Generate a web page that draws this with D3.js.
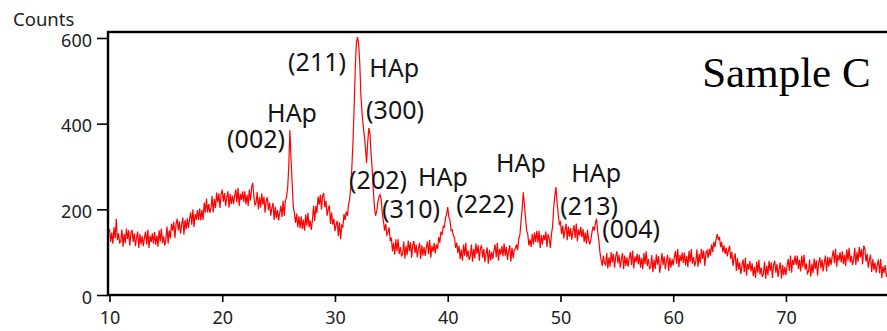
<!DOCTYPE html>
<html>
<head>
<meta charset="utf-8">
<script src="https://cdn.jsdelivr.net/npm/d3@7"></script>
<style>
  html, body { margin: 0; padding: 0; background: #fff; }
  svg { display: block; }
</style>
</head>
<body>
<svg id="chart"></svg>
<script>
// scan grid: 2-theta from 10 deg, 0.1 deg step
const twoThetaStart = 10
const twoThetaStep = 0.1

// counts, one row per degree
const counts = [
  154,124,146,120,158,132,178,128,144,122, // 10
  125,153,113,143,121,155,131,151,115,145, // 11
  152,124,144,114,134,148,110,142,118,138, // 12
  114,134,148,118,152,110,138,124,144,120, // 13
  147,117,139,113,151,125,155,121,137,115, // 14
  130,160,120,151,132,166,150,171,133,165, // 15
  178,151,172,143,164,181,141,175,153,179, // 16
  156,177,193,164,200,159,189,176,198,175, // 17
  202,174,199,175,216,192,225,193,212,192, // 18
  202,231,193,224,203,239,216,237,203,235, // 19
  246,218,238,208,228,242,204,236,212,232, // 20
  212,232,246,216,250,208,236,222,242,218, // 21
  242,212,234,208,246,220,250,262,232,210, // 22
  215,241,200,228,204,237,211,229,192,220, // 23
  228,198,216,185,203,215,175,206,180,198, // 24
  174,192,208,182,220,184,220,228,250,300, // 25
  385,318,262,205,192,168,190,158,184,156, // 26
  184,154,176,150,188,162,192,158,174,152, // 27
  175,208,173,208,191,230,211,234,200,232, // 28
  238,205,220,185,200,209,166,193,164,178, // 29
  149,164,173,138,170,130,163,159,189,175, // 30
  195,185,210,225,250,300,360,440,530,590, // 31
  602,585,540,465,425,395,372,345,308,355, // 32
  390,378,330,295,245,205,185,195,215,230, // 33
  234,222,188,172,150,166,140,146,158,126, // 34
  134,102,122,94,130,102,130,96,112,90,    // 35
  97,125,85,115,93,127,103,123,87,117,     // 36
  126,98,118,88,108,122,84,116,92,112,     // 37
  91,111,125,95,129,87,115,101,121,97,     // 38
  118,108,135,122,148,140,160,158,180,188, // 39
  205,182,175,150,152,138,135,110,122,98,  // 40
  114,84,106,80,118,92,122,88,104,82,      // 41
  90,118,78,108,86,120,96,116,80,110,      // 42
  115,87,107,77,97,111,73,105,81,101,      // 43
  84,104,118,88,122,80,108,94,114,90,      // 44
  120,92,112,82,102,116,78,110,86,106,     // 45
  108,118,104,132,140,172,200,240,212,180, // 46
  150,142,115,130,112,142,118,146,124,150, // 47
  122,150,110,140,118,140,128,148,112,142, // 48
  132,110,142,160,205,232,252,215,190,165, // 49
  170,142,162,132,152,166,128,160,136,156, // 50
  129,149,163,133,167,125,153,139,159,135, // 51
  154,124,146,120,152,128,118,130,148,160, // 52
  150,168,178,148,128,100,82,68,92,74,     // 53
  70,98,62,88,66,100,76,96,64,90,          // 54
  102,74,94,64,84,98,60,92,68,88,          // 55
  66,86,100,70,104,62,90,76,96,72,         // 56
  94,64,86,60,98,72,102,68,84,62,          // 57
  65,93,53,83,61,95,71,91,52,70,           // 58
  98,70,90,60,80,94,56,88,64,84,           // 59
  69,89,103,73,107,65,93,79,99,75,         // 60
  99,69,91,65,103,77,107,73,89,67,         // 61
  78,106,66,96,74,108,84,104,68,98,        // 62
  104,86,108,92,118,100,124,112,130,142,   // 63
  128,136,112,124,100,116,96,110,90,104,   // 64
  115,84,101,68,86,97,56,86,59,76,         // 65
  49,69,83,53,87,45,73,59,79,55,           // 66
  74,44,66,40,78,52,82,48,64,42,           // 67
  50,78,38,68,46,80,56,76,40,70,           // 68
  80,52,72,42,62,76,38,70,46,66,           // 69
  46,68,84,56,92,52,82,70,92,70,           // 70
  92,61,82,55,92,65,94,59,74,50,           // 71
  55,83,43,73,51,85,61,81,45,75,           // 72
  88,62,83,55,76,92,55,89,66,88,           // 73
  70,90,104,74,108,66,94,80,100,76,        // 74
  102,72,94,68,106,80,110,76,92,70,        // 75
  82,110,70,100,78,112,88,108,72,115,      // 76
  108,78,96,64,82,94,54,84,58,76,          // 77
  52,70,83,51,84,40,67,51,70,45,           // 78
  50,58                                    // 79
]

const xTicks = [10, 20, 30, 40, 50, 60, 70]
const yTicks = [0, 200, 400, 600]

// peak labels, placed in data units (2-theta, counts)
const peakLabels = [
  { text: "(211)", x: 25.84, y: 523 },
  { text: "HAp",   x: 33.03, y: 509 },
  { text: "(300)", x: 32.76, y: 411 },
  { text: "HAp",   x: 23.98, y: 404 },
  { text: "(002)", x: 20.43, y: 343 },
  { text: "(202)", x: 31.25, y: 247 },
  { text: "HAp",   x: 37.37, y: 254 },
  { text: "(310)", x: 34.18, y: 180 },
  { text: "HAp",   x: 44.29, y: 287 },
  { text: "(222)", x: 40.75, y: 191 },
  { text: "HAp",   x: 50.95, y: 264 },
  { text: "(213)", x: 49.97, y: 186 },
  { text: "(004)", x: 53.70, y: 133 }
]
const sampleName = { text: "Sample C", x: 62.57, y: 486 }

const data = counts.map((c, i) => ({ t: twoThetaStart + i * twoThetaStep, c }))

const width = 887
const height = 331
const margin = { top: 32, right: -9, bottom: 36, left: 108 }

const x = d3.scaleLinear()
    .domain([9.867, 79.76])
    .range([margin.left, width - margin.right])

const y = d3.scaleLinear()
    .domain([0, 614])
    .range([height - margin.bottom, margin.top])

const svg = d3.select("#chart")
    .attr("width", width)
    .attr("height", height)
    .attr("viewBox", [0, 0, width, height])
    .style("font-family", "'Noto Sans', 'Open Sans', sans-serif")

svg.append("clipPath")
    .attr("id", "plot-clip")
  .append("rect")
    .attr("x", margin.left)
    .attr("y", margin.top)
    .attr("width", width - margin.right - margin.left)
    .attr("height", height - margin.bottom - margin.top)

const line = d3.line()
    .x(d => x(d.t))
    .y(d => y(d.c))

svg.append("path")
    .attr("clip-path", "url(#plot-clip)")
    .attr("fill", "none")
    .attr("stroke", "#ff0000")
    .attr("stroke-width", 1.2)
    .attr("stroke-linejoin", "miter")
    .attr("d", line(data))

// x axis
svg.append("g")
    .attr("transform", `translate(0,${height - margin.bottom})`)
    .call(d3.axisBottom(x).tickValues(xTicks).tickSize(7).tickPadding(9).tickFormat(d3.format("d")))
    .call(g => g.select(".domain").remove())
    .call(g => g.selectAll(".tick line").attr("stroke", "#000").attr("stroke-width", 1.6))
    .call(g => g.selectAll(".tick text")
        .attr("fill", "#222")
        .style("font-size", "18px")
        .style("font-family", "'Noto Sans', sans-serif"))

// y axis
svg.append("g")
    .attr("transform", `translate(${margin.left},0)`)
    .call(d3.axisLeft(y).tickValues(yTicks).tickSize(11).tickPadding(5))
    .call(g => g.select(".domain").remove())
    .call(g => g.selectAll(".tick line").attr("stroke", "#000").attr("stroke-width", 1.6))
    .call(g => g.selectAll(".tick text")
        .attr("fill", "#222")
        .attr("dy", "0.45em")
        .style("font-size", "18px")
        .style("font-family", "'Noto Sans', sans-serif"))

svg.append("text")
    .attr("x", 13)
    .attr("y", 26)
    .attr("fill", "#222")
    .style("font-size", "18.5px")
    .text("Counts")

// frame
svg.append("rect")
    .attr("x", margin.left)
    .attr("y", margin.top)
    .attr("width", width - margin.right - margin.left)
    .attr("height", height - margin.bottom - margin.top)
    .attr("fill", "none")
    .attr("stroke", "#000")
    .attr("stroke-width", 2.4)

svg.append("g")
    .attr("fill", "#141414")
    .style("font-size", "25px")
  .selectAll("text")
  .data(peakLabels)
  .join("text")
    .attr("x", d => x(d.x))
    .attr("y", d => y(d.y))
    .text(d => d.text)

svg.append("text")
    .attr("x", x(sampleName.x))
    .attr("y", y(sampleName.y))
    .attr("fill", "#000")
    .style("font-family", "'Liberation Serif', 'Times New Roman', serif")
    .style("font-size", "43px")
    .text(sampleName.text)
</script>
</body>
</html>
